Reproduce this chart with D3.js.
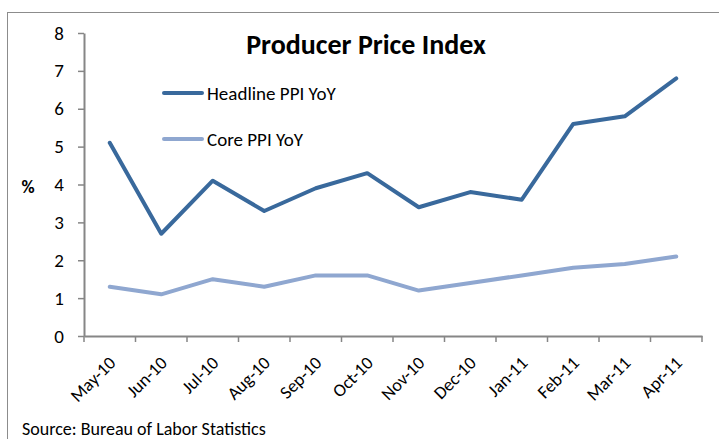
<!DOCTYPE html>
<html>
<head>
<meta charset="utf-8">
<script src="https://cdn.jsdelivr.net/npm/d3@7"></script>
<style>
  body { margin: 0; background: #fff; }
  text { font-family: Carlito, Calibri, Lato, sans-serif; }
</style>
</head>
<body>
<div id="chart"></div>
<script>
// data
var months = ["May-10", "Jun-10", "Jul-10", "Aug-10", "Sep-10", "Oct-10",
              "Nov-10", "Dec-10", "Jan-11", "Feb-11", "Mar-11", "Apr-11"];
var headline = [5.1, 2.7, 4.1, 3.3, 3.9, 4.3, 3.4, 3.8, 3.6, 5.6, 5.8, 6.8];
var core = [1.3, 1.1, 1.5, 1.3, 1.6, 1.6, 1.2, 1.4, 1.6, 1.8, 1.9, 2.1];
var yTicks = [0, 1, 2, 3, 4, 5, 6, 7, 8];
var seriesNames = ["Headline PPI YoY", "Core PPI YoY"];

var W = 719, H = 439;
var margin = {top: 33, right: 17, bottom: 103, left: 84},
    width = W - margin.left - margin.right,
    height = H - margin.top - margin.bottom;

var root = d3.select("#chart")
  .append("svg")
    .attr("width", W)
    .attr("height", H);

// outer frame (bottom and right are cut off in the original)
root.append("rect")
  .attr("x", 7.5).attr("y", 12.5)
  .attr("width", W + 20).attr("height", H + 20)
  .attr("fill", "none")
  .attr("stroke", "#8c8c8c")
  .attr("stroke-width", 1);

var svg = root.append("g")
  .attr("transform", "translate(" + margin.left + "," + margin.top + ")");

var x = d3.scaleBand()
  .domain(months)
  .range([0, width]);

var y = d3.scaleLinear()
  .domain([0, 8])
  .range([height, 0]);

// X axis
var xAxis = svg.append("g")
  .attr("transform", "translate(0," + height + ")")
  .call(d3.axisBottom(x).tickSize(0).tickSizeOuter(0));
xAxis.select(".domain").attr("stroke", "#868686").attr("stroke-width", 2);

// tick marks sit on band edges
svg.append("g")
  .selectAll("line")
  .data(d3.range(months.length + 1))
  .enter().append("line")
  .attr("x1", function(i) { return i * x.step(); })
  .attr("x2", function(i) { return i * x.step(); })
  .attr("y1", height).attr("y2", height + 6)
  .attr("stroke", "#868686").attr("stroke-width", 1.5);

xAxis.selectAll(".tick text")
  .style("font-size", "18px")
  .attr("fill", "#000")
  .attr("text-anchor", "end")
  .attr("dy", 0)
  .attr("y", 0)
  .attr("transform", "translate(7,28) rotate(-45)");

// Y axis
var yAxis = svg.append("g")
  .call(d3.axisLeft(y).tickValues(yTicks).tickSize(6).tickSizeOuter(0).tickPadding(14));
yAxis.select(".domain").attr("stroke", "#868686").attr("stroke-width", 2);
yAxis.selectAll(".tick line").attr("stroke", "#868686").attr("stroke-width", 1.5);
yAxis.selectAll(".tick text").style("font-size", "19px").attr("fill", "#000");

// % label
root.append("text")
  .attr("x", 28).attr("y", 193)
  .attr("text-anchor", "middle")
  .style("font-size", "18px")
  .style("font-weight", "bold")
  .text("%");

var colors = ["#39699c", "#8fa7d0"];
var line = d3.line()
  .x(function(d, i) { return x(months[i]) + x.bandwidth() / 2; })
  .y(function(d) { return y(d); });

svg.selectAll(".series")
  .data([core, headline])
  .enter().append("path")
  .attr("d", line)
  .attr("fill", "none")
  .attr("stroke", function(d, i) { return i === 0 ? colors[1] : colors[0]; })
  .attr("stroke-width", 4)
  .attr("stroke-linejoin", "round")
  .attr("stroke-linecap", "round");

// title
root.append("text")
  .attr("x", 366).attr("y", 54)
  .attr("text-anchor", "middle")
  .style("font-size", "28px")
  .style("font-weight", "bold")
  .text("Producer Price Index");

// legend
seriesNames.forEach(function(name, i) {
  var ly = 93 + i * 46;
  root.append("line")
    .attr("x1", 164).attr("x2", 202)
    .attr("y1", ly).attr("y2", ly)
    .attr("stroke", colors[i])
    .attr("stroke-width", 4)
    .attr("stroke-linecap", "round");
  root.append("text")
    .attr("x", 207).attr("y", ly + 7)
    .style("font-size", "19px")
    .text(name);
});

// source
root.append("text")
  .attr("x", 22).attr("y", 435)
  .style("font-size", "18px")
  .text("Source: Bureau of Labor Statistics");
</script>
</body>
</html>
